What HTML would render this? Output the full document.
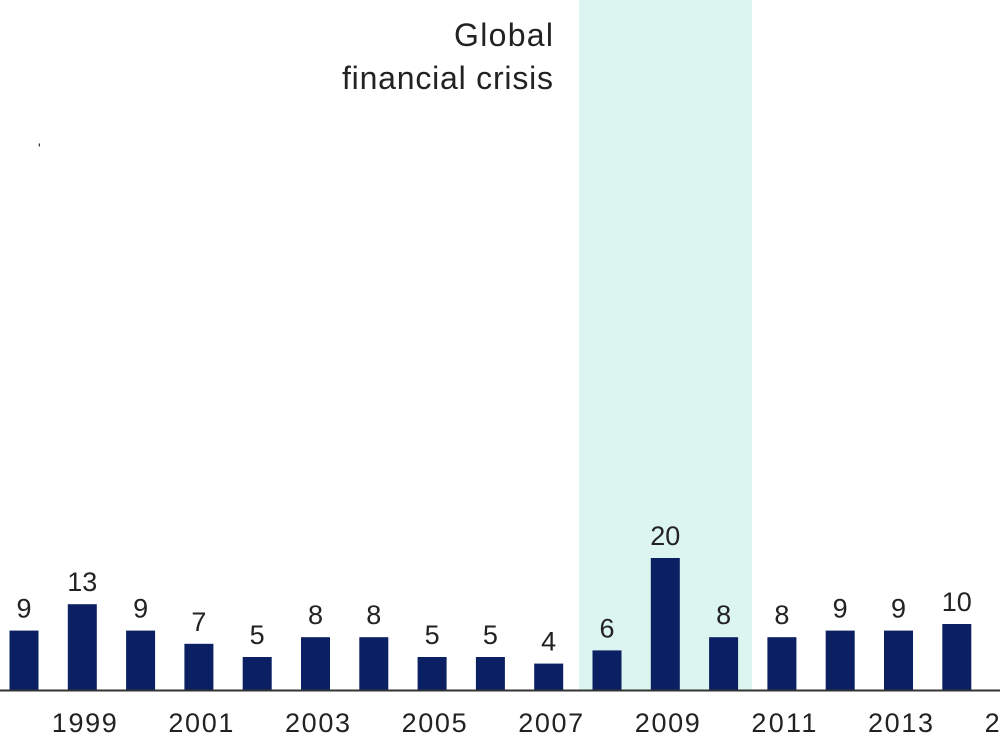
<!DOCTYPE html>
<html><head><meta charset="utf-8"><style>
html,body{margin:0;padding:0;background:#fff;}
svg{display:block;font-family:"Liberation Sans",sans-serif;}
</style></head><body>
<svg id="chart" width="1000" height="750">
<rect x="579" y="0" width="173" height="690" fill="#dcf5f1"></rect>
<text x="553" y="46" font-size="32" fill="#222" text-anchor="end" textLength="99">Global</text>
<text x="553" y="89" font-size="32" fill="#222" text-anchor="end" textLength="211">financial crisis</text>
<text x="38" y="153" font-size="14" fill="#222">'</text>
<g id="bars"></g>
<line x1="0" y1="690.5" x2="1000" y2="690.5" stroke="#333" stroke-width="2"></line>
<g id="ticks"></g>
</svg>
<script>
const years = [1998,1999,2000,2001,2002,2003,2004,2005,2006,2007,2008,2009,2010,2011,2012,2013,2014];
const values = [9,13,9,7,5,8,8,5,5,4,6,20,8,8,9,9,10];
const tickLabels = ["1999","2001","2003","2005","2007","2009","2011","2013","2015"];
const ns="http://www.w3.org/2000/svg";
const x0=24, step=58.3, base=690, unit=6.6, bw=29;
const xs = y => x0 + (y-1998)*step;
const ys = v => base - v*unit;
const bars=document.getElementById('bars');
years.forEach((yr,i)=>{
  const r=document.createElementNS(ns,'rect');
  r.setAttribute('x',xs(yr)-bw/2);r.setAttribute('y',ys(values[i]));
  r.setAttribute('width',bw);r.setAttribute('height',base-ys(values[i]));
  r.setAttribute('fill','#0a2063');
  
  
  bars.appendChild(r);
  const t=document.createElementNS(ns,'text');
  t.setAttribute('x',xs(yr));t.setAttribute('y',ys(values[i])-13);
  t.setAttribute('text-anchor','middle');t.setAttribute('font-size','27');t.setAttribute('fill','#222');
  t.textContent=values[i];
  
  
  bars.appendChild(t);
});
const ticks=document.getElementById('ticks');
tickLabels.forEach(l=>{
  const t=document.createElementNS(ns,'text');
  t.setAttribute('x',xs(+l)+2);t.setAttribute('y',732);
  t.setAttribute('text-anchor','middle');t.setAttribute('font-size','27');t.setAttribute('fill','#222');
  t.setAttribute('textLength','65');
  t.textContent=l;
  
  
  ticks.appendChild(t);
});
</script>
</body></html>
